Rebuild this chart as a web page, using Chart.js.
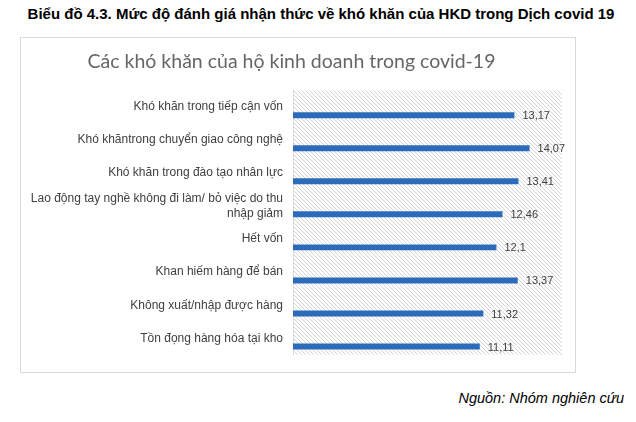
<!DOCTYPE html>
<html>
<head>
<meta charset="utf-8">
<script src="https://cdn.jsdelivr.net/npm/chart.js@4.4.1/dist/chart.umd.min.js"></script>
<style>
  body { margin: 0; background: #fff; width: 636px; height: 422px; position: relative; overflow: hidden; }
  #heading { position: absolute; left: 0; width: 642px; top: 5px; text-align: center;
    font: bold 15px "Liberation Sans", Arial, sans-serif; color: #000; }
  #frame { position: absolute; left: 20px; top: 37px; width: 554px; height: 334px; border: 1px solid #d9d9d9; }
  #chart { position: absolute; left: 0; top: 0; }
  #source { position: absolute; right: 12px; top: 390px;
    font: italic 14.5px "Liberation Sans", Arial, sans-serif; color: #000; }
</style>
</head>
<body>
<div id="heading">Biểu đồ 4.3. Mức độ đánh giá nhận thức về khó khăn của HKD trong Dịch covid 19</div>
<div id="frame"><canvas id="chart" width="554" height="334"></canvas></div>
<div id="source">Nguồn: Nhóm nghiên cứu</div>
<script>
const categories = [
  'Khó khăn trong tiếp cận vốn',
  'Khó khăntrong chuyển giao công nghệ',
  'Khó khăn trong đào tạo nhân lực',
  ['Lao động tay nghề không đi làm/ bỏ việc do thu', 'nhập giảm'],
  'Hết vốn',
  'Khan hiếm hàng để bán',
  'Không xuất/nhập được hàng',
  'Tồn đọng hàng hóa tại kho'
];
const values = [13.17, 14.07, 13.41, 12.46, 12.1, 13.37, 11.32, 11.11];
const emptySeries = [null, null, null, null, null, null, null, null];

// diagonal hatch behind the plot area
function makeHatch(ctx) {
  const p = document.createElement('canvas');
  p.width = 4; p.height = 4;
  const c = p.getContext('2d');
  c.strokeStyle = '#d4d4d4';
  c.lineWidth = 1;
  c.beginPath();
  c.moveTo(-1, -1); c.lineTo(5, 5);
  c.moveTo(3, -1); c.lineTo(5, 1);
  c.moveTo(-1, 3); c.lineTo(1, 5);
  c.stroke();
  return ctx.createPattern(p, 'repeat');
}

const hatchPlugin = {
  id: 'hatch',
  beforeDatasetsDraw(chart) {
    const { ctx, chartArea: a } = chart;
    ctx.save();
    ctx.fillStyle = makeHatch(ctx);
    ctx.fillRect(a.left, a.top, a.right - a.left, a.bottom - a.top);
    ctx.strokeStyle = '#d9d9d9';
    ctx.lineWidth = 1;
    ctx.beginPath();
    ctx.moveTo(a.left + 0.5, a.top);
    ctx.lineTo(a.left + 0.5, a.bottom);
    ctx.stroke();
    ctx.restore();
  }
};

const valueLabels = {
  id: 'valueLabels',
  afterDatasetsDraw(chart) {
    const { ctx } = chart;
    const meta = chart.getDatasetMeta(1);
    ctx.save();
    ctx.font = '11px "Liberation Sans", Arial, sans-serif';
    ctx.fillStyle = '#404040';
    ctx.textBaseline = 'middle';
    meta.data.forEach((bar, i) => {
      ctx.fillText(String(values[i]).replace('.', ','), bar.x + 8, bar.y + 1);
    });
    ctx.restore();
  }
};

new Chart(document.getElementById('chart'), {
  type: 'bar',
  data: {
    labels: categories,
    datasets: [
      { data: emptySeries, backgroundColor: 'rgba(0,0,0,0)' },
      { data: values, backgroundColor: '#2C6BBA' }
    ]
  },
  options: {
    indexAxis: 'y',
    responsive: false,
    animation: false,
    categoryPercentage: 1.0,
    barPercentage: 0.36,
    layout: { padding: { left: 0, right: 13, top: 0, bottom: 6 } },
    plugins: {
      legend: { display: false },
      tooltip: { enabled: false },
      title: {
        display: true,
        text: 'Các khó khăn của hộ kinh doanh trong covid-19',
        color: '#666666',
        font: { family: 'Lato, "Open Sans", sans-serif', size: 19.5, weight: 'normal' },
        padding: { top: 12, bottom: 17 }
      }
    },
    scales: {
      x: { display: false, min: 0, max: 16 },
      y: {
        grid: { display: false, drawTicks: false },
        border: { display: false },
        ticks: {
          color: '#404040',
          padding: 10,
          font: { family: '"Liberation Sans", Arial, sans-serif', size: 12 }
        },
        afterFit(scale) { scale.width = 272; }
      }
    }
  },
  plugins: [hatchPlugin, valueLabels]
});
</script>
</body>
</html>
